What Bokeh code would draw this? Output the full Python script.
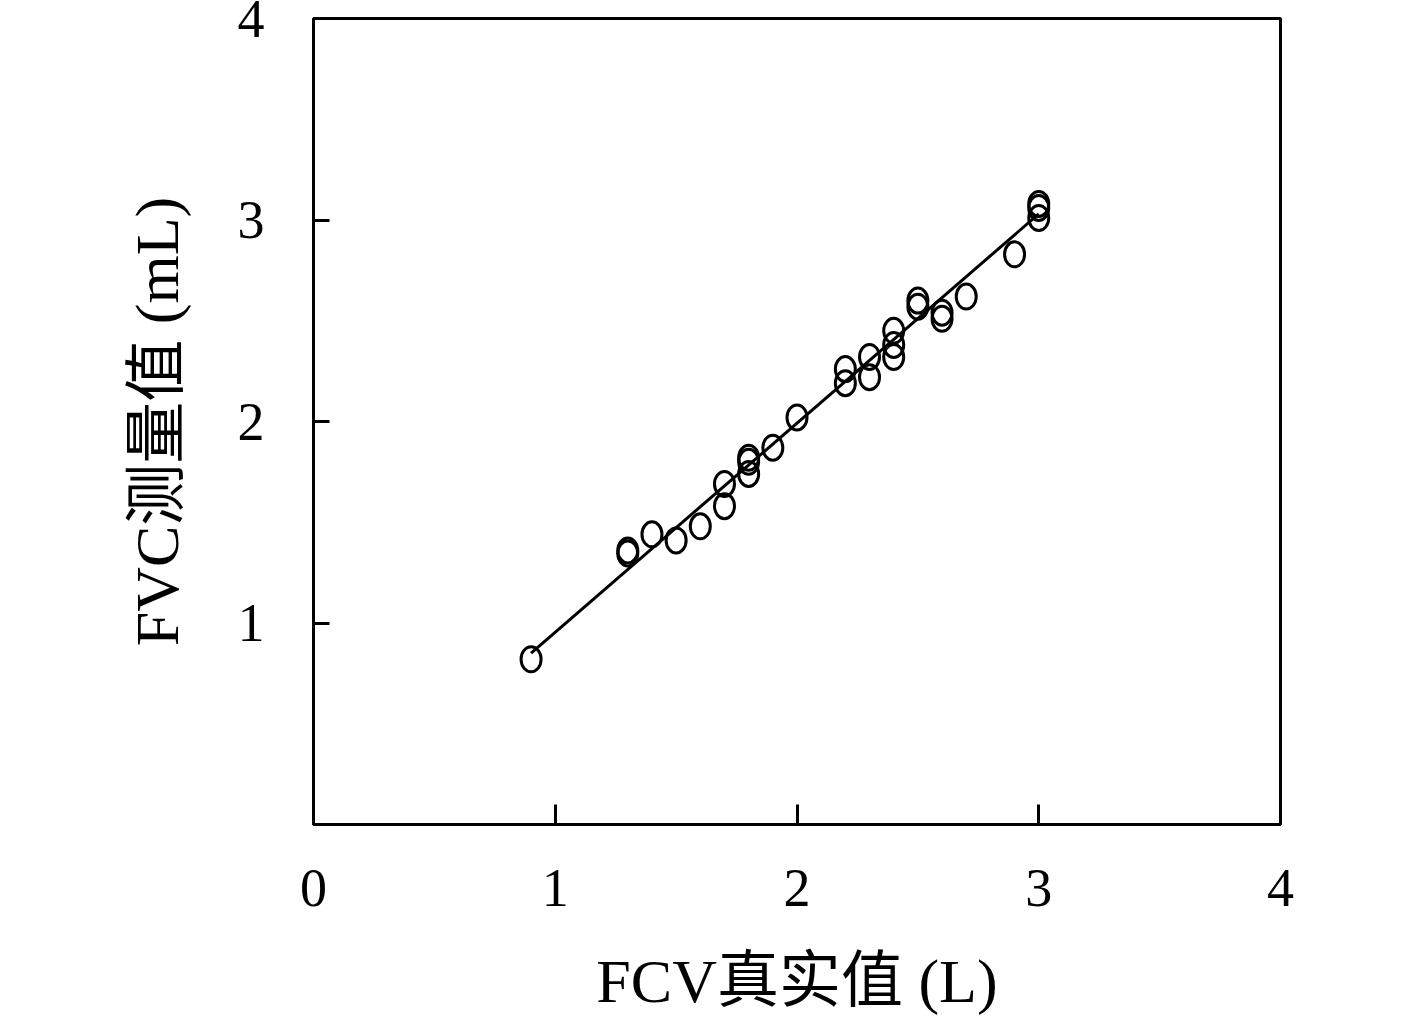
from bokeh.plotting import figure
from bokeh.models import FixedTicker, ColumnDataSource, Range1d
from bokeh.embed import file_html
from bokeh.resources import INLINE

# measured (true) FVC in L and device value
true_vals = [0.9, 1.3, 1.3, 1.4, 1.5, 1.6, 1.7, 1.7, 1.8, 1.8, 1.8, 1.9, 2.0,
             2.2, 2.2, 2.3, 2.3, 2.4, 2.4, 2.4, 2.5, 2.5, 2.6, 2.6, 2.7, 2.9,
             3.0, 3.0, 3.0]
meas_vals = [0.82, 1.345, 1.36, 1.44, 1.41, 1.48, 1.58, 1.69, 1.74, 1.80, 1.82,
             1.87, 2.02, 2.19, 2.26, 2.22, 2.32, 2.32, 2.38, 2.45, 2.57, 2.60,
             2.51, 2.54, 2.62, 2.83, 3.01, 3.06, 3.08]
fit_x = [0.9, 3.0]
fit_y = [0.85, 3.03]

x_ticks = [0, 1, 2, 3, 4]
y_ticks = [1, 2, 3, 4]
x_label = "FCV真实值 (L)"
y_label = "FVC测量值 (mL)"

FONT = "Liberation Serif, Noto Sans CJK SC, serif"

p = figure(width=1400, height=1019, output_backend="svg", toolbar_location=None,
           x_range=Range1d(0, 4), y_range=Range1d(0, 4),
           min_border_left=313, min_border_right=120, min_border_top=18,
           min_border_bottom=195)
p.grid.visible = False
p.background_fill_color = "white"
p.border_fill_color = "white"
p.outline_line_color = "black"
p.outline_line_width = 3

p.xaxis.ticker = FixedTicker(ticks=x_ticks)
p.yaxis.ticker = FixedTicker(ticks=y_ticks)
for ax in (p.xaxis[0], p.yaxis[0]):
    ax.axis_line_width = 3
    ax.major_tick_line_width = 3
    ax.major_tick_out = 0
    ax.minor_tick_line_color = None
    ax.major_label_text_font = FONT
    ax.major_label_text_font_size = "54px"
    ax.major_label_text_color = "black"
    ax.axis_label_text_font = FONT
    ax.axis_label_text_font_size = "62px"
    ax.axis_label_text_font_style = "normal"
    ax.axis_label_text_color = "black"
p.xaxis.major_tick_in = 20
p.yaxis.major_tick_in = 16
p.xaxis.axis_label = x_label
p.yaxis.axis_label = y_label
p.xaxis.major_label_standoff = 45
p.yaxis.major_label_standoff = 49
p.xaxis.axis_label_standoff = 38
p.yaxis.axis_label_standoff = 44

p.line(fit_x, fit_y, line_color="black", line_width=3)
src = ColumnDataSource(dict(x=true_vals, y=meas_vals))
p.ellipse(x="x", y="y", width=20, height=25, width_units="screen",
          height_units="screen", source=src, fill_color=None,
          line_color="black", line_width=3)

open("out.html", "w").write(file_html(p, INLINE))
